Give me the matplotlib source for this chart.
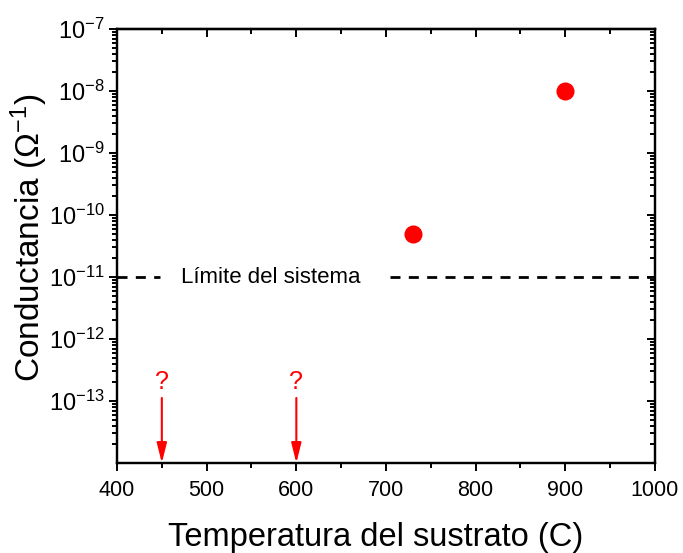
import matplotlib
matplotlib.use("Agg")
import matplotlib.pyplot as plt
import numpy as np
from matplotlib.ticker import LogLocator, FixedLocator, NullFormatter, MultipleLocator

plt.rcParams['font.family'] = ['Liberation Sans', 'DejaVu Sans']
plt.rcParams['mathtext.fontset'] = 'custom'
plt.rcParams['mathtext.rm'] = 'Liberation Sans'
plt.rcParams['mathtext.it'] = 'Liberation Sans:italic'
plt.rcParams['mathtext.default'] = 'regular'

# Measured samples
temperatures = [730, 900]
conductance = [5e-11, 1e-8]

# Detection limit of the measurement setup
system_limit = 1e-11
limit_label = "Límite del sistema"

# Samples below the detection limit (unknown conductance)
unknown_temps = [450, 600]

x_ticks = [400, 500, 600, 700, 800, 900, 1000]
y_decades = [-13, -12, -11, -10, -9, -8, -7]

fig = plt.figure(figsize=(6.83, 5.53), dpi=100)
ax = fig.add_axes([0.1713, 0.1627, 0.7877, 0.7848])

ax.set_yscale('log')
ax.set_xlim(400, 1000)
ax.set_ylim(1e-14, 1e-7)

ax.plot(temperatures, conductance, 'o', color='#ff0000', markersize=13,
        markeredgewidth=0, zorder=5)

# Dashed limit line, interrupted by its label
ax.plot([400, 448], [system_limit, system_limit], color='black', lw=2.0,
        dashes=(3.6, 3.0))
ax.plot([704, 1000], [system_limit, system_limit], color='black', lw=2.0,
        dashes=(3.6, 3.0))
ax.text(572, system_limit, limit_label, ha='center', va='center',
        fontsize=16)

for t in unknown_temps:
    ax.annotate('', xy=(t, 1e-14), xytext=(t, 1.12e-13),
                arrowprops=dict(arrowstyle='-|>,head_length=1.0,head_width=0.25',
                                color='#ff0000', lw=1.5,
                                mutation_scale=12, shrinkA=0, shrinkB=0))
    ax.text(t, 2.0e-13, '?', color='#ff0000', ha='center', va='center',
            fontsize=18)

ax.xaxis.set_major_locator(FixedLocator(x_ticks))
ax.xaxis.set_minor_locator(MultipleLocator(50))
ax.set_xticklabels([str(v) for v in x_ticks])

ax.yaxis.set_major_locator(FixedLocator([10.0**d for d in y_decades]))
ax.yaxis.set_minor_locator(LogLocator(base=10, subs=np.arange(2, 10), numticks=20))
ax.yaxis.set_minor_formatter(NullFormatter())
ax.set_yticklabels([r'$10^{%d}$' % d for d in y_decades])

for s in ax.spines.values():
    s.set_linewidth(1.6)

ax.tick_params(which='both', direction='out', top=False, right=False,
               width=1.4)
ax.tick_params(axis='x', labelsize=15.5, pad=6)
ax.tick_params(axis='y', labelsize=17, pad=3)
ax.tick_params(which='major', length=6)
ax.tick_params(which='minor', length=3.5)

# Inward ticks on the top and right spines
sec_x = ax.secondary_xaxis('top')
sec_x.xaxis.set_major_locator(FixedLocator(x_ticks))
sec_x.xaxis.set_minor_locator(MultipleLocator(50))
sec_x.tick_params(which='both', direction='in', labeltop=False, width=1.4)
sec_x.tick_params(which='major', length=6)
sec_x.tick_params(which='minor', length=3.5)
sec_x.spines['top'].set_linewidth(1.6)

ax_r = ax.twinx()
ax_r.set_yscale('log')
ax_r.set_ylim(ax.get_ylim())
ax_r.yaxis.set_major_locator(FixedLocator([10.0**d for d in y_decades]))
ax_r.yaxis.set_minor_locator(LogLocator(base=10, subs=np.arange(2, 10), numticks=20))
ax_r.tick_params(which='both', direction='in', labelright=False, width=1.4)
ax_r.tick_params(which='major', length=6)
ax_r.tick_params(which='minor', length=3.5)
for s in ax_r.spines.values():
    s.set_linewidth(1.6)

ax.set_xlabel('Temperatura del sustrato (C)', fontsize=23.5)
ax.xaxis.set_label_coords(0.48, -0.137)
ax.set_ylabel(r'Conductancia ($\Omega^{-1}$)', fontsize=24)
ax.yaxis.set_label_coords(-0.125, 0.52)

fig.savefig('out.png', dpi=100)
